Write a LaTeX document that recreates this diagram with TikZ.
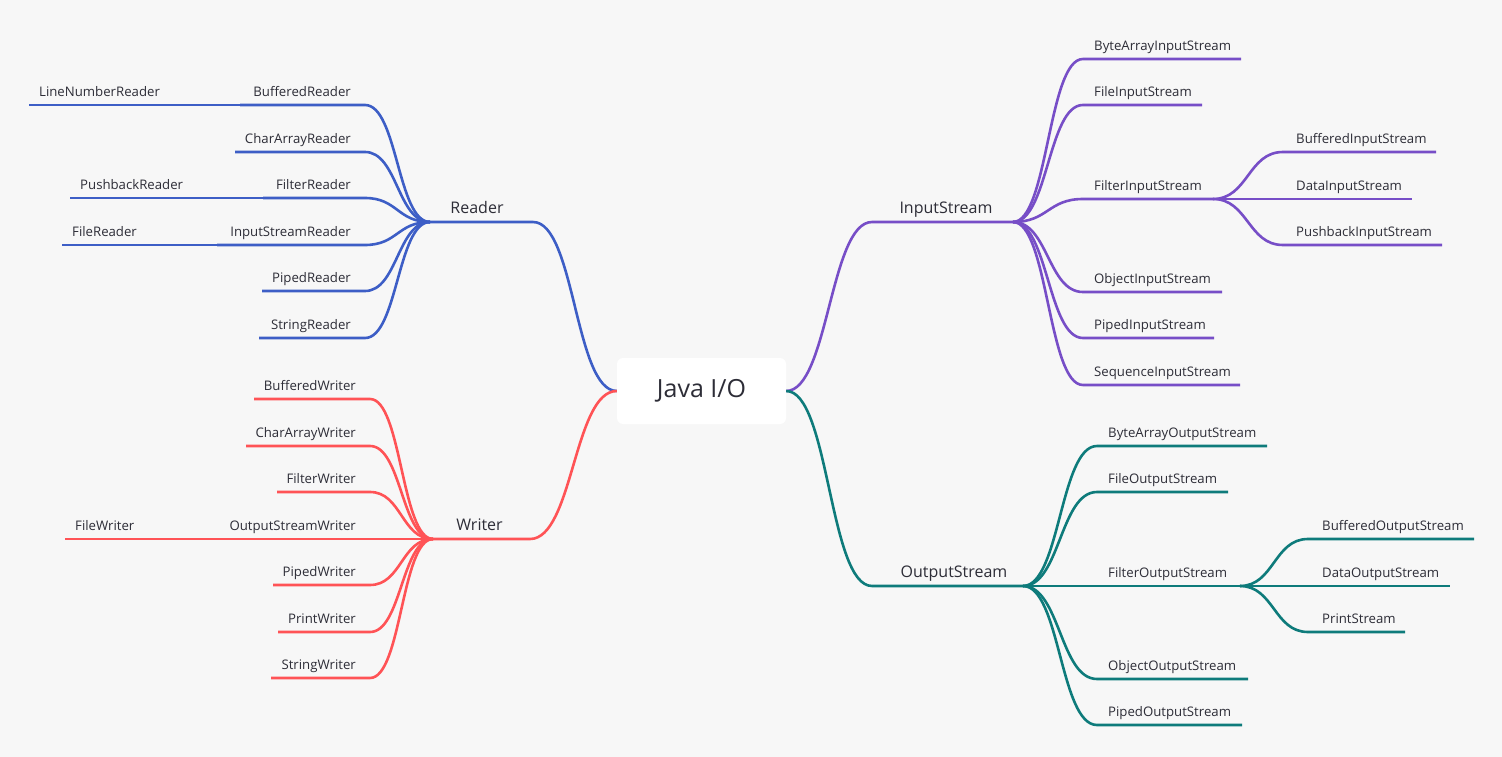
\documentclass[tikz,border=0pt]{standalone}
\usepackage{fontspec}
\setmainfont{Open Sans}
\usetikzlibrary{calc}
\definecolor{bg}{HTML}{F7F7F7}
\definecolor{ink}{HTML}{2D2D37}
\definecolor{readerc}{HTML}{3D5EC6}
\definecolor{writerc}{HTML}{FF5356}
\definecolor{inputc}{HTML}{774EC7}
\definecolor{outputc}{HTML}{0E7B7B}
\tikzset{
  twig/.style={to path={.. controls +(#1,0) and +(-#1,0) .. (\tikztotarget)}},
  branch/.style={line width=2.6pt, line join=round},
  leaf/.style={font=\fontsize{13.2}{15}\selectfont, text=ink, inner sep=0pt},
  topic/.style={font=\fontsize{16}{19}\selectfont, text=ink, inner sep=0pt},
  root/.style={fill=white, rounded corners=6pt, minimum width=169pt, minimum height=66pt,
    font=\fontsize{25}{30}\selectfont, text=ink},
}
\begin{document}
\begin{tikzpicture}[x=1pt,y=-1pt]
    %% Background
    \fill[bg] (0,0) rectangle (1502,757);
    \useasboundingbox (0,0) rectangle (1502,757);
    %% Root
    \node[root] (java) at (701.5,391) {Java I/O};

    %% Reader
    \coordinate (reader-r) at (533,222);
    \coordinate (reader-hub) at (430,222);
    \node[topic,anchor=base] (reader) at (477,213) {Reader};
    \draw[branch,readerc] (java.west) to[twig=-42] (reader-r) -- (reader-hub);
    \foreach \n/\y/\l/\t in {rbuf/105/240/BufferedReader, rchar/152/235/CharArrayReader,
        rfilt/198/263/FilterReader, risr/245/217/InputStreamReader,
        rpipe/291/262/PipedReader, rstr/338/259/StringReader} {
      \coordinate (\n-r) at (365,\y);
      \coordinate (\n-l) at (\l,\y);
      \node[leaf,anchor=base east] (\n) at (351,\y-8.5) {\t};
      \draw[branch,readerc] (reader-hub) to[twig=-32.5] (\n-r) -- (\n-l);
    }
    \foreach \n/\p/\y/\l/\t in {rlnr/rbuf/105/29/LineNumberReader,
        rpush/rfilt/198/70/PushbackReader, rfile/risr/245/62/FileReader} {
      \coordinate (\n-l) at (\l,\y);
      \node[leaf,anchor=base west] (\n) at (\l+10,\y-8.5) {\t};
      \draw[branch,readerc] (\p-l) -- (\n-l);
    }

    %% Writer
    \coordinate (writer-r) at (530,539);
    \coordinate (writer-hub) at (433,539);
    \node[topic,anchor=base] (writer) at (479.5,530) {Writer};
    \draw[branch,writerc] (java.west) to[twig=-43] (writer-r) -- (writer-hub);
    \foreach \n/\y/\l/\t in {wbuf/399/254/BufferedWriter, wchar/446/246/CharArrayWriter,
        wfilt/492/277/FilterWriter, wosw/539/216/OutputStreamWriter,
        wpipe/585/273/PipedWriter, wprint/632/278/PrintWriter, wstr/678/271/StringWriter} {
      \coordinate (\n-r) at (370,\y);
      \coordinate (\n-l) at (\l,\y);
      \node[leaf,anchor=base east] (\n) at (356,\y-8.5) {\t};
      \draw[branch,writerc] (writer-hub) to[twig=-31.5] (\n-r) -- (\n-l);
    }
    \coordinate (wfile-l) at (65,539);
    \node[leaf,anchor=base west] (wfile) at (75,530.5) {FileWriter};
    \draw[branch,writerc] (wosw-l) -- (wfile-l);

    %% InputStream
    \coordinate (input-l) at (872,222);
    \coordinate (input-hub) at (1013,222);
    \node[topic,anchor=base] (input) at (946,213) {InputStream};
    \draw[branch,inputc] (java.east) to[twig=42] (input-l) -- (input-hub);
    \foreach \n/\y/\r/\t in {ibyte/59/1241/ByteArrayInputStream, ifile/105/1202/FileInputStream,
        ifilt/199/1213/FilterInputStream, iobj/292/1222/ObjectInputStream,
        ipipe/338/1214/PipedInputStream, iseq/385/1240/SequenceInputStream} {
      \coordinate (\n-l) at (1083,\y);
      \coordinate (\n-r) at (\r,\y);
      \node[leaf,anchor=base west] (\n) at (1094,\y-8.5) {\t};
      \draw[branch,inputc] (input-hub) to[twig=35] (\n-l) -- (\n-r);
    }
    \foreach \n/\y/\r/\t in {ibuf/152/1436/BufferedInputStream,
        idata/199/1412/DataInputStream, ipush/245/1442/PushbackInputStream} {
      \coordinate (\n-l) at (1283,\y);
      \coordinate (\n-r) at (\r,\y);
      \node[leaf,anchor=base west] (\n) at (1296,\y-8.5) {\t};
      \draw[branch,inputc] (ifilt-r) to[twig=35] (\n-l) -- (\n-r);
    }

    %% OutputStream
    \coordinate (output-l) at (872,586);
    \coordinate (output-hub) at (1023,586);
    \node[topic,anchor=base] (output) at (954,577) {OutputStream};
    \draw[branch,outputc] (java.east) to[twig=43] (output-l) -- (output-hub);
    \foreach \n/\y/\r/\t in {obyte/446/1267/ByteArrayOutputStream, ofile/492/1228/FileOutputStream,
        ofilt/586/1240/FilterOutputStream, oobj/679/1248/ObjectOutputStream,
        opipe/725/1242/PipedOutputStream} {
      \coordinate (\n-l) at (1097,\y);
      \coordinate (\n-r) at (\r,\y);
      \node[leaf,anchor=base west] (\n) at (1108,\y-8.5) {\t};
      \draw[branch,outputc] (output-hub) to[twig=37] (\n-l) -- (\n-r);
    }
    \foreach \n/\y/\r/\t in {obuf/539/1474/BufferedOutputStream,
        odata/586/1450/DataOutputStream, oprint/632/1405/PrintStream} {
      \coordinate (\n-l) at (1308,\y);
      \coordinate (\n-r) at (\r,\y);
      \node[leaf,anchor=base west] (\n) at (1322,\y-8.5) {\t};
      \draw[branch,outputc] (ofilt-r) to[twig=34] (\n-l) -- (\n-r);
    }
\end{tikzpicture}
\end{document}
